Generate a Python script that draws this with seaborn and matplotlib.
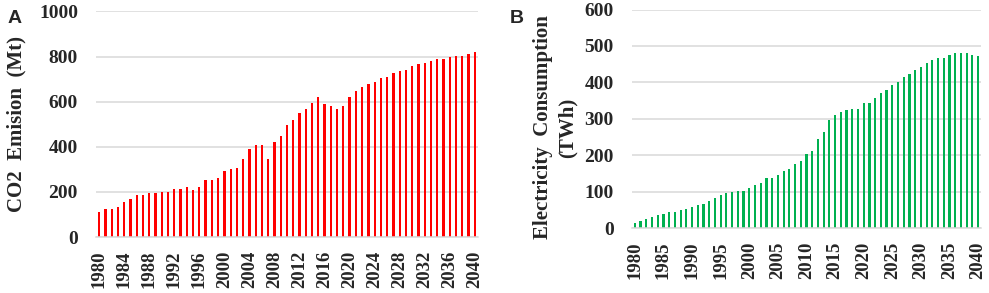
import numpy as np
import pandas as pd
import matplotlib
matplotlib.use('Agg')
import matplotlib.pyplot as plt
import seaborn as sns

years = list(range(1980, 2041))
co2_emission = [111, 124, 124, 133, 155, 168, 185, 185, 193, 193,
                200, 200, 215, 215, 223, 208, 223, 254, 254, 261,
                292, 300, 308, 345, 391, 406, 406, 345, 421, 446,
                497, 521, 551, 567, 596, 620, 589, 582, 567, 582,
                620, 649, 664, 679, 689, 703, 710, 728, 734, 742,
                757, 765, 772, 781, 788, 788, 796, 803, 803, 812, 819]
electricity = [15, 20, 24, 30, 35, 38, 44, 44, 50, 53,
               58, 63, 67, 73, 82, 91, 95, 99, 103, 103,
               109, 118, 123, 138, 138, 146, 156, 162, 176, 185,
               203, 211, 245, 263, 296, 309, 318, 324, 328, 328,
               343, 343, 356, 370, 379, 393, 400, 415, 424, 434,
               442, 452, 462, 466, 466, 475, 480, 480, 480, 475, 471]

df = pd.DataFrame({'year': years, 'co2': co2_emission, 'elec': electricity})

sns.set_style('white')
plt.rcParams['font.family'] = ['Liberation Serif', 'DejaVu Serif']
plt.rcParams['font.weight'] = 'bold'

grid_col = '#d9d9d9'

fig = plt.figure(figsize=(9.89, 2.93), dpi=100)
axA = fig.add_axes([0.0971, 0.1911, 0.3862, 0.7697])
axB = fig.add_axes([0.639, 0.2218, 0.3529, 0.7457])


def style_axis(ax, ymax, ystep, xstep, ylabel, label_x, label_y):
    ax.set_ylim(0, ymax)
    ax.set_yticks(np.arange(0, ymax + 1, ystep))
    ax.set_xlim(-0.5, len(years) - 0.5)
    ax.set_xticks(range(0, len(years), xstep))
    ax.set_xticklabels([str(y) for y in years[::xstep]], rotation=90,
                       fontsize=13.5, fontweight='bold')
    ax.tick_params(axis='x', length=0, pad=10)
    ax.tick_params(axis='y', length=0, pad=13, labelsize=14)
    for t in ax.get_yticklabels():
        t.set_fontweight('bold')
    ax.yaxis.grid(True, color=grid_col, linewidth=1.1)
    ax.set_axisbelow(True)
    for s in ['top', 'right', 'left']:
        ax.spines[s].set_visible(False)
    ax.spines['bottom'].set_color(grid_col)
    ax.spines['bottom'].set_linewidth(1.1)
    ax.set_xlabel('')
    ax.set_ylabel(ylabel, fontsize=15, fontweight='bold', linespacing=1.35)
    ax.yaxis.set_label_coords(label_x, label_y)


sns.barplot(data=df, x='year', y='co2', color='#ff0000', saturation=1,
            width=0.36, linewidth=0, ax=axA)
style_axis(axA, 1000, 200, 4, 'CO2  Emision  (Mt)', -0.183, 0.5)

sns.barplot(data=df, x='year', y='elec', color='#00b050', saturation=1,
            width=0.38, linewidth=0, ax=axB)
style_axis(axB, 600, 100, 5, 'Electricity  Consumption\n(TWh)', -0.155, 0.46)

fig.text(0.008, 0.965, 'A', fontsize=14, fontweight='bold',
         family='Liberation Sans', va='top', ha='left')
fig.text(0.515, 0.965, 'B', fontsize=14, fontweight='bold',
         family='Liberation Sans', va='top', ha='left')

fig.savefig('out.png', dpi=100)
